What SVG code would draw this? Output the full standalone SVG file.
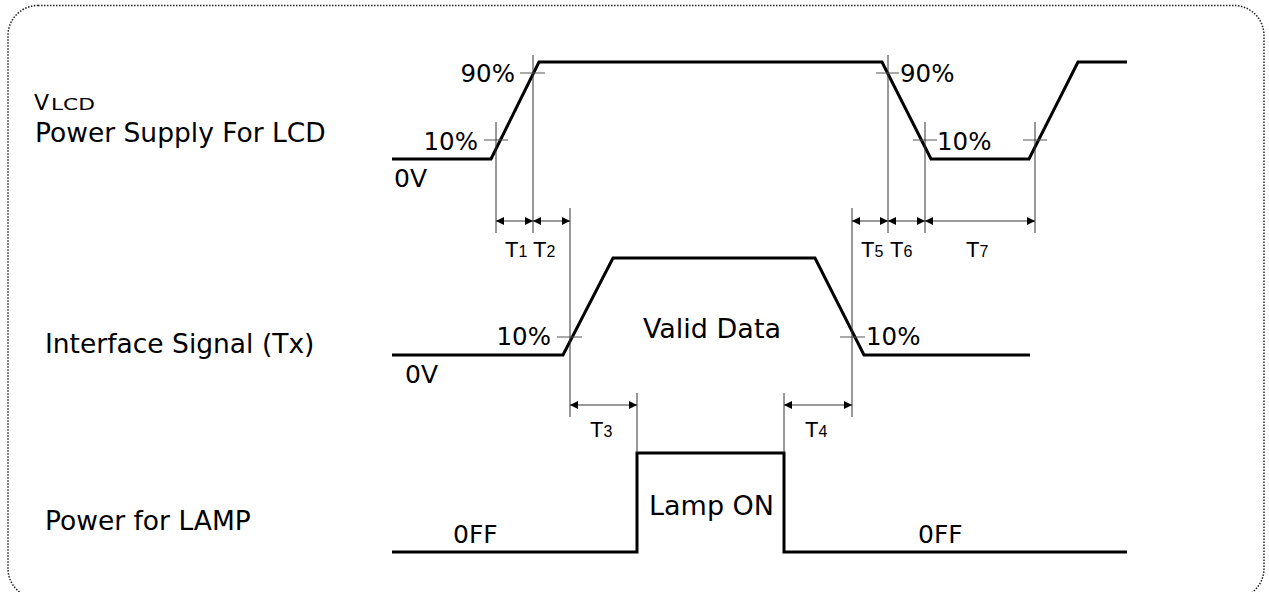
<svg xmlns="http://www.w3.org/2000/svg" width="1269" height="592" viewBox="0 0 1269 592">
<style>
.frame{fill:none;stroke:#222;stroke-width:1.5;stroke-dasharray:1.5 1.5}
.sig{fill:none;stroke:#000;stroke-width:3;stroke-linejoin:miter}
.thin{fill:none;stroke:#333;stroke-width:1}
.tick{fill:none;stroke:#555;stroke-width:1}
.dim{fill:none;stroke:#333;stroke-width:1;marker-start:url(#ah);marker-end:url(#ah)}
.t{font-family:"DejaVu Sans",Verdana,sans-serif;fill:#000}
.lbl{font-size:26.5px}
.big{font-size:27px}
.zero{font-size:25px}
.pct{font-size:24.5px}
.tl{font-family:"Liberation Sans",Arial,sans-serif;font-size:22px;fill:#000}
.sub{font-size:16px}
</style>
<defs>
<marker id="ah" viewBox="0 0 10 10" refX="10" refY="5" markerWidth="10" markerHeight="8" markerUnits="userSpaceOnUse" orient="auto-start-reverse">
<path d="M0 0 L10 5 L0 10 Z" fill="#000"/>
</marker>
</defs>
<rect class="frame" x="8" y="5.5" width="1256" height="593" rx="30" ry="30"/>

<g id="labels">
<text class="t" x="34" y="110" font-size="22">V</text>
<text class="t" x="51" y="110" font-size="16" textLength="44" lengthAdjust="spacingAndGlyphs">LCD</text>
<text class="t lbl" x="35" y="142">Power Supply For LCD</text>
<text class="t lbl" x="45" y="353">Interface Signal (Tx)</text>
<text class="t lbl" x="45" y="530">Power for LAMP</text>
</g>

<g id="vlcd">
<path class="sig" d="M392 159 L491 159 L539 62 L882 62 L931 159 L1029 159 L1078 62 L1127 62"/>
<path class="tick" d="M484 140 H508 M520 73 H545 M876 73 H899 M913 140 H937 M1023 140 H1047"/>
<text class="t pct" x="515" y="82" text-anchor="end">90%</text>
<text class="t pct" x="478" y="150" text-anchor="end">10%</text>
<text class="t pct" x="900" y="82">90%</text>
<text class="t pct" x="937" y="150">10%</text>
<text class="t zero" x="394" y="187">0V</text>
</g>

<g id="interface">
<path class="sig" d="M392 355 L563 355 L613 258 L815 258 L864 355 L1030 355"/>
<path class="tick" d="M557 337 H582 M840 337 H865"/>
<text class="t pct" x="551" y="345" text-anchor="end">10%</text>
<text class="t pct" x="866" y="345">10%</text>
<text class="t big" x="712" y="338" text-anchor="middle">Valid Data</text>
<text class="t zero" x="405" y="383">0V</text>
</g>

<g id="lamp">
<path class="sig" d="M392 552 L637 552 L637 453 L784 453 L784 552 L1127 552"/>
<text class="t zero" x="453" y="543">0FF</text>
<text class="t zero" x="918" y="543">0FF</text>
<text class="t big" x="649" y="515">Lamp ON</text>
</g>

<g id="connectors">
<path class="thin" d="M496 122 V233 M533 55 V233 M570 208 V417 M852 208 V417 M888 55 V233 M925 122 V233 M1035 122 V233 M637 393 V453 M784 393 V453"/>
<line class="dim" x1="496" y1="221" x2="533" y2="221"/>
<line class="dim" x1="533" y1="221" x2="570" y2="221"/>
<line class="dim" x1="852" y1="221" x2="888" y2="221"/>
<line class="dim" x1="888" y1="221" x2="925" y2="221"/>
<line class="dim" x1="925" y1="221" x2="1035" y2="221"/>
<line class="dim" x1="570" y1="405" x2="637" y2="405"/>
<line class="dim" x1="784" y1="405" x2="852" y2="405"/>
</g>

<g id="timelabels">
<text class="tl" x="505" y="257">T<tspan class="sub">1</tspan></text>
<text class="tl" x="533" y="257">T<tspan class="sub">2</tspan></text>
<text class="tl" x="861" y="257">T<tspan class="sub">5</tspan></text>
<text class="tl" x="890" y="257">T<tspan class="sub">6</tspan></text>
<text class="tl" x="966" y="257">T<tspan class="sub">7</tspan></text>
<text class="tl" x="590" y="437">T<tspan class="sub">3</tspan></text>
<text class="tl" x="805" y="437">T<tspan class="sub">4</tspan></text>
</g>
</svg>
